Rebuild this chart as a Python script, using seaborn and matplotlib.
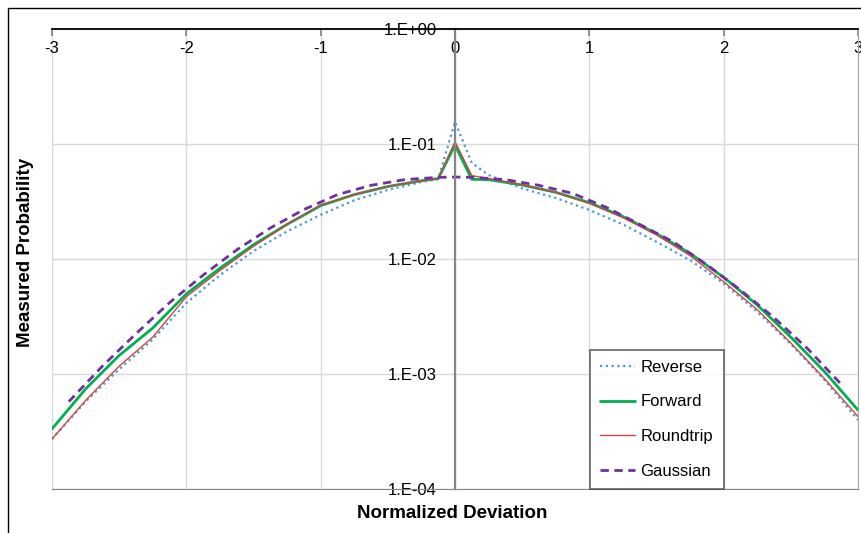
"""
Measured probability vs normalized deviation (log scale)
"""

import numpy as np
import pandas as pd
import matplotlib
matplotlib.use("Agg")
import matplotlib.pyplot as plt
import seaborn as sns
from matplotlib.patches import Rectangle
from matplotlib.ticker import FixedLocator, FuncFormatter

sns.set_style("white")
plt.rcParams['font.family'] = ['Liberation Sans', 'DejaVu Sans']
plt.rcParams['font.size'] = 12
plt.rcParams['text.color'] = 'black'
plt.rcParams['axes.labelcolor'] = 'black'

# measured series share one x grid
x_meas = [-3, -2.75, -2.5, -2.25, -2, -1.75, -1.5, -1.25, -1, -0.75, -0.5, -0.25, -0.125,
          0, 0.125, 0.25, 0.5, 0.75, 1, 1.25, 1.5, 1.75, 2, 2.25, 2.5, 2.75, 3]

reverse = [2.72e-4, 5.75e-4, 1.10e-3, 2.00e-3, 4.14e-3, 7.24e-3, 1.17e-2, 1.74e-2, 2.42e-2,
           3.24e-2, 3.98e-2, 4.68e-2, 4.95e-2, 1.56e-1, 6.84e-2, 5.37e-2, 4.11e-2, 3.39e-2,
           2.67e-2, 2.00e-2, 1.41e-2, 9.77e-3, 6.15e-3, 3.47e-3, 1.82e-3, 8.91e-4, 3.98e-4]

forward = [3.33e-4, 7.41e-4, 1.45e-3, 2.51e-3, 4.97e-3, 8.32e-3, 1.33e-2, 2.00e-2, 2.91e-2,
           3.63e-2, 4.27e-2, 4.79e-2, 5.01e-2, 9.80e-2, 4.93e-2, 4.90e-2, 4.40e-2, 3.80e-2,
           3.09e-2, 2.34e-2, 1.66e-2, 1.12e-2, 6.93e-3, 3.98e-3, 2.09e-3, 1.05e-3, 4.86e-4]

roundtrip = [2.72e-4, 5.89e-4, 1.17e-3, 2.09e-3, 4.70e-3, 7.94e-3, 1.29e-2, 2.00e-2, 2.95e-2,
             3.63e-2, 4.27e-2, 4.79e-2, 5.01e-2, 1.05e-1, 5.31e-2, 5.01e-2, 4.40e-2, 3.80e-2,
             3.05e-2, 2.29e-2, 1.62e-2, 1.07e-2, 6.35e-3, 3.63e-3, 1.86e-3, 9.12e-4, 4.26e-4]

# reference gaussian
x_gauss = [-2.875, -2.625, -2.375, -2.125, -1.875, -1.625, -1.375, -1.125, -0.875, -0.625,
           -0.375, -0.125, 0, 0.125, 0.375, 0.625, 0.875, 1.125, 1.375, 1.625, 1.875,
           2.125, 2.375, 2.625, 2.875]
gaussian = [5.75e-4, 1.17e-3, 2.24e-3, 4.17e-3, 7.24e-3, 1.20e-2, 1.86e-2, 2.69e-2, 3.63e-2,
            4.37e-2, 4.90e-2, 5.13e-2, 5.16e-2, 5.13e-2, 4.90e-2, 4.37e-2, 3.72e-2, 2.82e-2,
            2.00e-2, 1.41e-2, 8.91e-3, 5.37e-3, 3.09e-3, 1.66e-3, 8.13e-4]

x_ticks = [-3, -2, -1, 0, 1, 2, 3]
y_ticks = [1e-4, 1e-3, 1e-2, 1e-1, 1e0]

series = [
    ('Reverse', x_meas, reverse, dict(color='#4a9ad8', lw=1.6, ls=(0, (1, 1.6)))),
    ('Forward', x_meas, forward, dict(color='#00b050', lw=2.0, ls='-')),
    ('Roundtrip', x_meas, roundtrip, dict(color='#d0453f', lw=1.0, ls='-')),
    ('Gaussian', x_gauss, gaussian, dict(color='#7030a0', lw=2.0, ls=(0, (3, 2)))),
]

fig = plt.figure(figsize=(8.62, 5.33), dpi=100)
ax = fig.add_axes([52 / 862, 1 - 489 / 533, 806 / 862, 460 / 533])

# outer chart frame
fig.patches.append(Rectangle((8 / 862, -0.1), 1.0, 1.1 - 8 / 533, transform=fig.transFigure,
                             fill=False, edgecolor='black', lw=1.0))

for name, xs, ys, style in series:
    df = pd.DataFrame({'x': xs, 'y': ys})
    sns.lineplot(data=df, x='x', y='y', ax=ax, label=name, color=style['color'],
                 linewidth=style['lw'], linestyle=style['ls'], sort=False)

ax.set_yscale('log')
ax.set_xlim(-3, 3)
ax.set_ylim(1e-4, 1)

# x axis sits at the top, labels just below it
ax.xaxis.tick_top()
ax.xaxis.set_major_locator(FixedLocator(x_ticks))
ax.set_xticklabels([str(t) for t in x_ticks])
ax.tick_params(axis='x', direction='in', length=5, width=1.2, color='#808080',
               pad=-19.5, labelsize=12, labelcolor='black')

# y axis crosses at x = 0
ax.spines['left'].set_position(('data', 0))
ax.spines['left'].set_color('#868686')
ax.spines['left'].set_linewidth(1.6)
ax.yaxis.set_major_locator(FixedLocator(y_ticks))
ax.yaxis.set_minor_locator(FixedLocator([]))
ax.yaxis.set_major_formatter(FuncFormatter(lambda v, p: f"1.E{int(round(np.log10(v))):+03d}"))
ax.tick_params(axis='y', direction='out', length=6, width=1.2, color='#868686',
               pad=7, labelsize=12, labelcolor='black')

ax.spines['top'].set_color('black')
ax.spines['top'].set_linewidth(1.3)
ax.spines['right'].set_color('#a6a6a6')
ax.spines['bottom'].set_color('#868686')
ax.axvline(-3, color='#a6a6a6', lw=1.2, zorder=0.5)

ax.grid(True, which='major', color='#d9d9d9', lw=1.0)
ax.set_axisbelow(True)

ax.set_xlabel('Normalized Deviation', fontsize=13.5, fontweight='bold')
ax.xaxis.set_label_position('bottom')
ax.xaxis.set_label_coords(0.497, -0.035)
ax.set_ylabel('Measured Probability', fontsize=13.5, fontweight='bold')
ax.yaxis.set_label_coords(-0.022, 0.515)

leg = ax.legend(loc='lower left', bbox_to_anchor=((590 - 52) / 806, 0.0), borderaxespad=0,
                fontsize=12, frameon=True, fancybox=False, labelspacing=1.17,
                handlelength=2.1, handletextpad=0.3, borderpad=0.63)
leg.get_frame().set_edgecolor('#404040')
leg.get_frame().set_linewidth(1.2)

plt.savefig('out.png', dpi=100)
plt.close()
